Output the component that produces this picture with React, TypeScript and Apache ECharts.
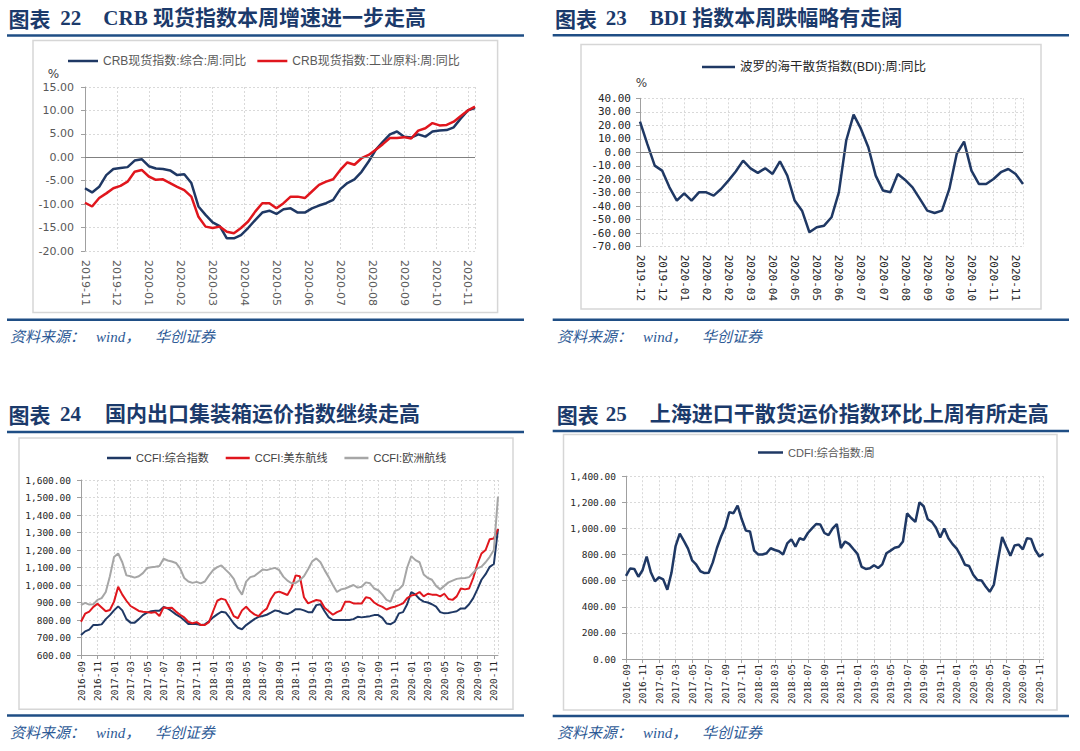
import React, { useEffect, useRef } from "react";
import * as echarts from "echarts";

// ---------------- DATA ----------------
const crbTickLabels = ["2019-11","2019-12","2020-01","2020-02","2020-03","2020-04","2020-05","2020-06","2020-07","2020-08","2020-09","2020-10","2020-11"];
const crbComposite = [-6.6,-7.5,-6.3,-3.8,-2.5,-2.3,-2.1,-0.7,-0.4,-1.9,-2.4,-2.5,-2.8,-3.8,-3.6,-5.5,-10.5,-12.3,-13.9,-14.7,-17.3,-17.3,-16.6,-15.1,-13.4,-11.8,-11.4,-12.1,-11.1,-10.9,-11.8,-11.8,-10.9,-10.3,-9.8,-9.1,-6.8,-5.5,-4.7,-3.1,-0.9,1.6,3.3,4.9,5.5,4.4,4.2,4.9,4.4,5.5,5.7,5.8,6.4,8.3,10.0,10.5];
const crbIndustrial = [-9.7,-10.5,-8.7,-7.7,-6.6,-6.1,-5.2,-3.1,-2.7,-4.1,-4.8,-4.7,-5.5,-6.3,-7.0,-8.4,-12.7,-14.8,-15.1,-14.8,-15.9,-16.2,-15.1,-13.7,-11.6,-9.8,-9.8,-10.9,-9.8,-8.4,-8.4,-8.7,-7.3,-5.9,-5.2,-4.7,-2.7,-1.1,-1.6,-0.2,0.5,1.6,2.8,4.1,4.1,4.3,4.0,5.7,6.2,7.3,6.8,6.9,7.6,8.8,10.0,10.8];

const bdiTickLabels = ["2019-12","2019-12","2020-01","2020-02","2020-02","2020-03","2020-04","2020-05","2020-05","2020-06","2020-07","2020-07","2020-08","2020-09","2020-09","2020-10","2020-11","2020-11"];
const bdiValues = [22.7,6,-9.9,-13.6,-26,-35.8,-30.4,-35.8,-29.7,-29.7,-32.1,-27.2,-21,-14.3,-6.2,-11.9,-15.3,-11.9,-16.1,-6.7,-17.3,-35.8,-43.3,-59.3,-55.6,-54.4,-48.2,-29.7,8.7,27.9,17.3,3.7,-17.3,-28.4,-29.7,-16.1,-20.5,-26,-34.6,-43.3,-45,-43.3,-27.2,-1.2,7.9,-13.6,-23.5,-23.5,-19.8,-14.8,-12.4,-16.1,-23.5];

const monthTickLabels = ["2016-09","2016-11","2017-01","2017-03","2017-05","2017-07","2017-09","2017-11","2018-01","2018-03","2018-05","2018-07","2018-09","2018-11","2019-01","2019-03","2019-05","2019-07","2019-09","2019-11","2020-01","2020-03","2020-05","2020-07","2020-09","2020-11"];

const ccfiComposite = [714,735,745,772,772,775,805,828,855,878,
855,805,785,785,805,828,842,850,853,853,
875,866,850,832,818,798,777,777,777,772,
775,792,815,832,847,843,813,780,756,747,
771,788,805,818,823,830,842,855,850,838,
834,845,862,862,855,845,845,885,890,850,
815,800,800,800,800,800,805,818,815,818,
822,828,828,812,780,776,790,838,845,890,
960,945,920,905,900,890,876,845,838,840,
845,850,866,866,890,925,975,1030,1062,1104,
1120,1320];
const ccfiUSEast = [790,836,848,875,893,872,850,857,905,990,
945,910,880,866,852,847,845,842,845,823,
872,868,870,848,830,815,790,781,788,772,
772,788,850,910,922,915,870,822,810,855,
876,850,832,822,847,865,920,956,962,953,
943,985,1055,1050,930,895,905,914,910,870,
850,830,845,855,905,905,895,895,895,930,
925,900,885,875,860,870,876,885,895,925,
940,945,960,935,950,945,945,935,950,920,
915,935,980,975,980,1040,1120,1180,1200,1262,
1266,1320];
const ccfiEurope = [885,898,888,890,915,925,960,1050,1160,1180,
1130,1055,1050,1042,1050,1068,1097,1101,1104,1108,
1150,1140,1134,1126,1095,1040,1020,1012,1018,1009,
1020,1055,1085,1102,1112,1088,1065,1035,980,945,
1019,1045,1051,1070,1088,1085,1092,1098,1085,1048,
1025,1010,1012,1028,1050,1090,1135,1152,1130,1085,
1045,1000,960,975,980,990,1000,985,990,1015,
1010,980,970,945,915,905,965,975,1000,1100,
1165,1142,1130,1060,1040,1030,995,975,995,1015,
1025,1035,1038,1040,1045,1070,1095,1105,1130,1161,
1200,1505];

const cdfiValues = [636,693,690,630,680,785,665,595,626,610,
530,660,865,960,905,845,755,722,672,658,
661,740,850,938,1010,1125,1116,1175,1070,983,
976,830,800,800,810,848,835,825,800,885,
917,860,925,912,965,1000,1034,1030,965,948,
1000,1034,850,900,880,842,805,705,690,695,
718,697,725,810,830,852,860,900,1115,1080,
1050,1200,1170,1070,1050,1005,930,1000,925,880,
845,790,722,712,645,605,602,555,515,570,
760,935,860,790,870,876,840,925,920,835,
785,805];

// ---------------- STYLE ----------------
const NAVY = "#1F3864";
const RED = "#E0161D";
const LGRAY = "#A6A6A6";
const TITLE_COLOR = "#1B3A6B";
const RULE_COLOR = "#1F4E85";
const SOURCE_COLOR = "#2D5A96";
const AXIS_COLOR = "#A0A0A0";
const GRID_COLOR = "#D9D9D9";

const toPairs = (values: number[], step: number) => values.map((v, i) => [i * step, v]);

const tickFormatter = (labels: string[], interval: number) => (v: number) => {
  const k = v / interval;
  const r = Math.round(k);
  if (Math.abs(k - r) > 1e-6 || r < 0 || r >= labels.length) return "";
  return labels[r];
};

const fmt2 = (v: number) => v.toFixed(2);
const fmtThousands = (v: number) => {
  const s = v.toFixed(2);
  const [i, d] = s.split(".");
  return i.replace(/\B(?=(\d{3})+(?!\d))/g, ",") + "." + d;
};

function xAxisCfg(gridIndex: number, max: number, interval: number, labels: string[], o: any) {
  return {
    type: "value",
    gridIndex,
    min: 0,
    max,
    interval,
    axisLine: { show: o.showLine, onZero: false, lineStyle: { color: AXIS_COLOR, width: 1 } },
    axisTick: { show: o.showLine, length: 4, lineStyle: { color: AXIS_COLOR } },
    axisLabel: {
      rotate: o.rotate,
      margin: o.margin,
      fontFamily: o.fontFamily,
      fontSize: o.fontSize,
      color: o.color,
      showMaxLabel: false,
      formatter: tickFormatter(labels, interval),
    },
    splitLine: { show: true, lineStyle: { color: GRID_COLOR, type: [2, 2], width: 1 } },
  };
}

function yAxisCfg(gridIndex: number, min: number, max: number, interval: number, o: any) {
  return {
    type: "value",
    gridIndex,
    min,
    max,
    interval,
    axisLine: { show: true, lineStyle: { color: AXIS_COLOR, width: 1 } },
    axisTick: { show: true, length: 4, lineStyle: { color: AXIS_COLOR } },
    axisLabel: {
      margin: o.margin,
      fontFamily: o.fontFamily,
      fontSize: o.fontSize,
      color: o.color,
      formatter: o.formatter,
    },
    splitLine: { show: true, lineStyle: { color: GRID_COLOR, type: [2, 2], width: 1 } },
  };
}

function lineSeries(name: string, xi: number, data: number[][], color: string, width: number, extra: any = {}) {
  return {
    type: "line",
    name,
    xAxisIndex: xi,
    yAxisIndex: xi,
    data,
    symbol: "none",
    showSymbol: false,
    lineStyle: { color, width },
    itemStyle: { color },
    animation: false,
    ...extra,
  };
}

const zeroLine = {
  silent: true,
  symbol: "none",
  label: { show: false },
  lineStyle: { color: "#808080", width: 1, type: "solid" },
  data: [{ yAxis: 0 }],
  animation: false,
};

function titleEls(x0: number, xNum: number, xRest: number, y: number, num: string, rest: string) {
  const base: any = {
    fontSize: 21,
    fontWeight: "bold",
    fill: TITLE_COLOR,
    verticalAlign: "middle",
    textVerticalAlign: "middle",
  };
  return [
    { type: "text", x: x0, y, silent: true, style: { ...base, text: "图表", fontFamily: '"Noto Sans CJK SC"' } },
    { type: "text", x: xNum, y, silent: true, style: { ...base, text: num, fontFamily: '"Liberation Serif"' } },
    { type: "text", x: xRest, y, silent: true, style: { ...base, text: rest, fontFamily: '"Liberation Serif", "Noto Sans CJK SC"' } },
  ];
}

function sourceEls(x: number, y: number) {
  const base: any = {
    fontSize: 15,
    fontStyle: "italic",
    fill: SOURCE_COLOR,
    fontFamily: '"Liberation Serif", "Noto Sans CJK SC"',
    verticalAlign: "middle",
    textVerticalAlign: "middle",
  };
  return [
    { type: "text", x, y, silent: true, style: { ...base, text: "资料来源：" } },
    { type: "text", x: x + 86, y, silent: true, style: { ...base, text: "wind，" } },
    { type: "text", x: x + 145, y, silent: true, style: { ...base, text: "华创证券" } },
  ];
}

const ruleEl = (x: number, y: number, w: number) => ({
  type: "rect",
  silent: true,
  shape: { x, y, width: w, height: 2.5 },
  style: { fill: RULE_COLOR },
});

const frameEl = (x: number, y: number, w: number, h: number) => ({
  type: "rect",
  silent: true,
  z: -10,
  shape: { x, y, width: w, height: h },
  style: { fill: "none", stroke: "#D6D6D6", lineWidth: 1.5 },
});

const pctEl = (x: number, y: number) => ({
  type: "text",
  x,
  y,
  silent: true,
  style: {
    text: "%",
    fontSize: 12,
    fontFamily: '"DejaVu Sans"',
    fill: "#404040",
    align: "center",
    textAlign: "center",
    verticalAlign: "middle",
    textVerticalAlign: "middle",
  },
});

function legendCfg(names: string[], left: number, centerY: number, itemWidth: number, itemGap: number, fontSize: number, color: string) {
  return {
    data: names,
    left,
    top: centerY - 7,
    padding: 0,
    orient: "horizontal",
    icon: "rect",
    itemWidth,
    itemHeight: 2.5,
    itemGap,
    selectedMode: false,
    textStyle: {
      fontSize,
      lineHeight: 14,
      color,
      fontFamily: '"Liberation Sans", "Noto Sans CJK SC"',
    },
  };
}

function buildOption() {
  const crbNames = ["CRB现货指数:综合:周:同比", "CRB现货指数:工业原料:周:同比"];
  const bdiName = "波罗的海干散货指数(BDI):周:同比";
  const ccfiNames = ["CCFI:综合指数", "CCFI:美东航线", "CCFI:欧洲航线"];
  const cdfiName = "CDFI:综合指数:周";

  const topAxisFont = { fontFamily: '"DejaVu Sans"', fontSize: 11, color: "#595959" };
  const monoTop = { fontFamily: '"DejaVu Sans Mono"', fontSize: 11, color: "#262626" };
  const monoBottom = { fontFamily: '"DejaVu Sans Mono"', fontSize: 9.5, color: "#262626" };

  return {
    animation: false,
    backgroundColor: "#ffffff",
    grid: [
      { left: 85, top: 87, width: 390, height: 164 },
      { left: 640, top: 98.3, width: 383, height: 148.4 },
      { left: 81, top: 480, width: 417, height: 175 },
      { left: 626, top: 476.2, width: 417.5, height: 182.8 },
    ],
    xAxis: [
      xAxisCfg(0, 55, 4.5, crbTickLabels, { ...topAxisFont, rotate: -90, margin: 9, showLine: false }),
      xAxisCfg(1, 52, 3, bdiTickLabels, { ...monoTop, rotate: -90, margin: 8, showLine: false }),
      xAxisCfg(2, 50.5, 2, monthTickLabels, { ...monoBottom, rotate: 90, margin: 6, showLine: true }),
      xAxisCfg(3, 50.5, 2, monthTickLabels, { ...monoBottom, rotate: 90, margin: 5, showLine: true }),
    ],
    yAxis: [
      yAxisCfg(0, -20, 15, 5, { ...topAxisFont, margin: 11, formatter: fmt2 }),
      yAxisCfg(1, -70, 40, 10, { ...monoTop, margin: 9, formatter: fmt2 }),
      yAxisCfg(2, 600, 1600, 100, { ...monoBottom, margin: 10, formatter: fmtThousands }),
      yAxisCfg(3, 0, 1400, 200, { ...monoBottom, margin: 10, formatter: fmtThousands }),
    ],
    legend: [
      legendCfg(crbNames, 68, 61, 30, 11, 12, "#595959"),
      legendCfg([bdiName], 702, 67, 33, 10, 12.5, "#262626"),
      legendCfg(ccfiNames, 107, 458, 24, 17, 11, "#404040"),
      legendCfg([cdfiName], 758, 452.5, 25, 10, 11, "#595959"),
    ],
    series: [
      lineSeries(crbNames[0], 0, toPairs(crbComposite, 1), NAVY, 2.5, { markLine: zeroLine }),
      lineSeries(crbNames[1], 0, toPairs(crbIndustrial, 1), RED, 2.5),
      lineSeries(bdiName, 1, toPairs(bdiValues, 1), NAVY, 2.5, { markLine: zeroLine }),
      lineSeries(ccfiNames[0], 2, toPairs(ccfiComposite, 0.5), NAVY, 2),
      lineSeries(ccfiNames[1], 2, toPairs(ccfiUSEast, 0.5), RED, 2),
      lineSeries(ccfiNames[2], 2, toPairs(ccfiEurope, 0.5), LGRAY, 2),
      lineSeries(cdfiName, 3, toPairs(cdfiValues, 0.5), NAVY, 2.5),
    ],
    graphic: {
      elements: [
        ...titleEls(8.6, 60.3, 103.3, 17.5, "22", "CRB 现货指数本周增速进一步走高"),
        ...titleEls(555, 605.8, 649.7, 17.5, "23", "BDI 指数本周跌幅略有走阔"),
        ...titleEls(8.6, 60, 105, 414, "24", "国内出口集装箱运价指数继续走高"),
        ...titleEls(556.8, 605.8, 649.7, 414, "25", "上海进口干散货运价指数环比上周有所走高"),
        ruleEl(7, 34.2, 517),
        ruleEl(552.7, 34, 516.3),
        ruleEl(7, 318.5, 517),
        ruleEl(552.7, 318.5, 516.3),
        ruleEl(7, 430.8, 517),
        ruleEl(552.7, 429.8, 516.3),
        ruleEl(7, 714.3, 517),
        ruleEl(552.7, 714.8, 516.3),
        frameEl(33, 40.6, 464.6, 272),
        frameEl(581, 44.6, 460, 264.4),
        frameEl(19, 438, 494, 271.3),
        frameEl(563.5, 434.6, 493.5, 275.4),
        pctEl(53.5, 73.7),
        pctEl(641.5, 82.5),
        ...sourceEls(10, 337),
        ...sourceEls(557, 337),
        ...sourceEls(10, 733),
        ...sourceEls(557, 733),
      ],
    },
  };
}

export default function App() {
  const ref = useRef<HTMLDivElement>(null);
  useEffect(() => {
    if (!ref.current) return;
    const chart = echarts.init(ref.current, null, { renderer: "svg" });
    chart.setOption(buildOption() as any);
    return () => {
      chart.dispose();
    };
  }, []);
  return (
    <div
      ref={ref}
      style={{ position: "absolute", left: 0, top: 0, width: 1080, height: 751 }}
    />
  );
}
